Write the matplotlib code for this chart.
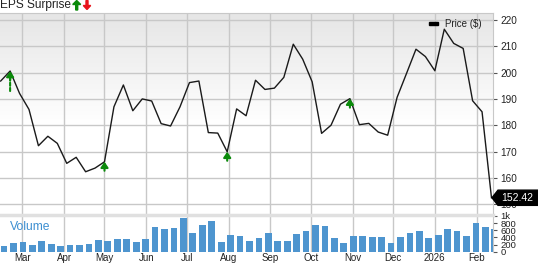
import numpy as np
import pandas as pd
import matplotlib
matplotlib.use("Agg")
import matplotlib.pyplot as plt
import matplotlib.dates as mdates
from matplotlib.patches import Polygon, Rectangle
from matplotlib.transforms import IdentityTransform

# weekly closes / volume
weeks = pd.date_range("2025-02-13", periods=53, freq="7D")
price = [196.8, 200.6, 192.1, 186.0, 172.2, 175.8, 173.1, 165.5, 167.8, 162.3,
         163.7, 166.1, 187.0, 195.3, 185.5, 190.0, 189.2, 180.6, 179.7, 187.0,
         196.2, 196.8, 177.2, 177.0, 169.9, 186.2, 183.6, 197.1, 193.6, 194.1,
         198.2, 210.8, 205.1, 196.5, 176.9, 180.0, 188.0, 190.1, 180.2, 180.7,
         177.4, 176.2, 190.6, 199.7, 208.9, 206.1, 200.7, 216.5, 211.1, 209.2,
         189.3, 185.1, 152.42]
volume = [159, 234, 271, 178, 308, 206, 150, 187, 187, 215,
          336, 290, 346, 355, 271, 364, 682, 645, 654, 935,
          523, 757, 869, 271, 458, 449, 308, 383, 523, 290,
          308, 505, 579, 748, 720, 393, 234, 449, 439, 402,
          421, 243, 421, 514, 579, 374, 458, 636, 579, 449,
          813, 701, 626]
eps_beats = [1, 11, 24, 37]  # weeks with a positive surprise

month_ticks = pd.date_range("2025-03-01", "2026-02-01", freq="MS")
month_labels = ["Mar", "Apr", "May", "Jun", "Jul", "Aug", "Sep", "Oct",
                "Nov", "Dec", "2026", "Feb"]
price_ticks = [150, 160, 170, 180, 190, 200, 210, 220]
volume_ticks = [0, 200, 400, 600, 800, 1000]
volume_labels = ["0", "200", "400", "600", "800", "1k"]

GRID = "#c8c8c8"
GREEN = "#0b8a0b"
BAR = "#4e95cf"

plt.rcParams["font.family"] = ["Liberation Sans", "DejaVu Sans"]

W, H = 538, 264
fig = plt.figure(figsize=(W / 100, H / 100), dpi=100)
ax = fig.add_axes([0, 49 / H, 492.7 / W, 202.3 / H])
axv = fig.add_axes([0, 12.3 / H, 492.7 / W, 36.7 / H])

wx = mdates.date2num(weeks)
xlim = (mdates.date2num(pd.Timestamp("2025-03-01")) - 16.5,
        mdates.date2num(pd.Timestamp("2026-02-01")) + 11.9)

# background gradient, gray at the top fading to white
t = np.linspace(0, 1, 256)
g = 1 - np.clip((t - 0.45) / 0.55, 0, 1) * 0.1
grad = np.dstack([g, g, g]).reshape(256, 1, 3)
ax.imshow(grad, extent=[0, 1, 0, 1], transform=ax.transAxes, aspect="auto",
          origin="lower", zorder=0)

ax.plot(wx, price, color="#1a1a1a", lw=1.0, zorder=3)
ax.set_xlim(*xlim)
ax.set_ylim(145.86, 222.78)
ax.set_xticks(mdates.date2num(month_ticks))
ax.set_yticks(price_ticks)
ax.set_axisbelow(True)
ax.grid(True, color=GRID, lw=1)
ax.yaxis.tick_right()
ax.tick_params(axis="y", length=3, width=0.8, color="#555555", labelsize=7.2,
               pad=2.5, labelcolor="#222222")
ax.tick_params(axis="x", bottom=False, labelbottom=False)
for s in ["left", "bottom"]:
    ax.spines[s].set_visible(False)
for s in ["top", "right"]:
    ax.spines[s].set_color(GRID)

# EPS surprise arrows
for i in eps_beats:
    ax.annotate("", xy=(wx[i], price[i]), xytext=(0, -9), textcoords="offset pixels",
                arrowprops=dict(arrowstyle="-|>,head_width=0.22,head_length=0.32",
                                color=GREEN, lw=1.5, shrinkA=0, shrinkB=0,
                                mutation_scale=10), zorder=4)
ax.annotate("", xy=(wx[eps_beats[0]], price[eps_beats[0]]), xytext=(0, -20),
            textcoords="offset pixels",
            arrowprops=dict(arrowstyle="-", ls=(0, (1.5, 1)), color=GREEN, lw=1.5,
                            shrinkA=0, shrinkB=5), zorder=4)

# legend
ax.add_patch(Rectangle((0.8707, 0.937), 0.018, 0.017, transform=ax.transAxes,
                       color="black", zorder=5))
ax.text(0.9032, 0.9456, "Price ($)", transform=ax.transAxes, fontsize=7,
        va="center", ha="left", color="#222222", zorder=5)

# volume panel
axv.bar(wx, volume, width=5, align="edge", color=BAR, zorder=2)
axv.set_xlim(*xlim)
axv.set_ylim(0, 1028)
axv.set_xticks(mdates.date2num(month_ticks))
axv.set_xticklabels(month_labels)
axv.set_yticks(volume_ticks)
axv.set_yticklabels(volume_labels)
axv.set_axisbelow(True)
axv.grid(axis="x", color=GRID, lw=1)
axv.yaxis.tick_right()
axv.tick_params(axis="y", length=3, width=0.8, color="#555555", labelsize=6.8,
                pad=2.5, labelcolor="#222222")
axv.tick_params(axis="x", length=0, labelsize=7, pad=1.2, labelcolor="#222222")
axv.spines["left"].set_visible(False)
axv.spines["bottom"].set_visible(False)
axv.spines["right"].set_color(GRID)
axv.spines["top"].set_color("#e0e0e0")
axv.spines["top"].set_linewidth(2.5)
axv.text(0.0203, 0.67, "Volume", transform=axv.transAxes, fontsize=8.7,
         color="#3d8fd1", va="center", ha="left")

# title with arrows
fig.text(0.3 / W, 1 - 5.2 / H, "EPS Surprise", fontsize=8.6, va="center",
         ha="left", color="#222222")
fig.patches.append(Polygon([(72.7, H - 4.5), (76.7, H - 0.5), (80.7, H - 4.5),
                            (77.7, H - 4.5), (77.7, H - 10), (75.7, H - 10),
                            (75.7, H - 4.5)], closed=True, color=GREEN,
                           transform=IdentityTransform()))
fig.patches.append(Polygon([(83.3, H - 5.5), (87, H - 9.5), (90.7, H - 5.5),
                            (88, H - 5.5), (88, H - 0.5), (86, H - 0.5),
                            (86, H - 5.5)], closed=True, color="#e8141b",
                           transform=IdentityTransform()))

# last price tag
yp = ax.transData.transform((wx[-1], price[-1]))[1]
tag = Polygon([(492, yp), (498, yp + 7.6), (W, yp + 7.6), (W, yp - 7.6),
               (498, yp - 7.6)], closed=True, color="black",
              transform=IdentityTransform(), zorder=10)
fig.patches.append(tag)
fig.text(517.5 / W, yp / H, f"{price[-1]:.2f}", fontsize=7.5, color="white",
         ha="center", va="center", zorder=11)

fig.savefig("out.png", dpi=100)
